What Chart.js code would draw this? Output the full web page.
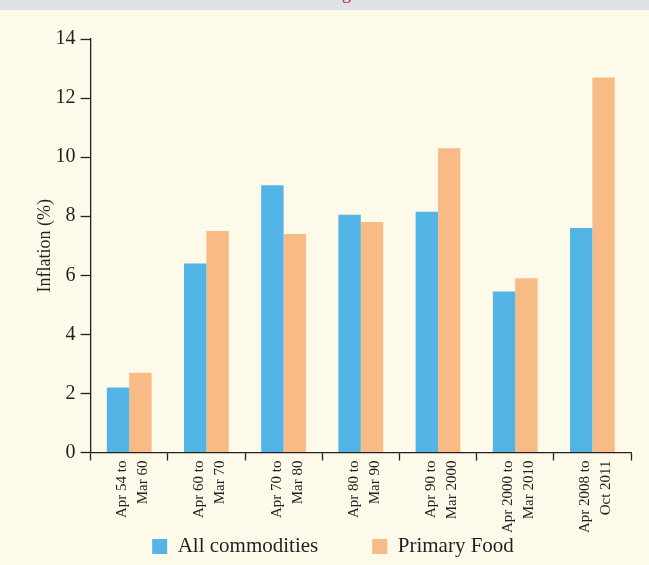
<!DOCTYPE html>
<html>
<head>
<meta charset="utf-8">
<script src="https://cdn.jsdelivr.net/npm/chart.js@4"></script>
<style>
  html, body { margin: 0; padding: 0; background: #fefae9; }
  #band { position: absolute; left: 0; top: 0; width: 649px; height: 10px; background: #dee2e5; overflow: hidden; }
  #band span { position: absolute; left: 342px; top: -17px; color: #b01c3a; font: 18px 'Liberation Serif', serif; }
  #wrap { position: absolute; left: 0; top: 10px; width: 649px; height: 555px; }
</style>
</head>
<body>
<div id="band"><span>g</span></div>
<div id="wrap"><canvas id="chart"></canvas></div>
<script>
let periods = [
    ['Apr 54 to', 'Mar 60'],
    ['Apr 60 to', 'Mar 70'],
    ['Apr 70 to', 'Mar 80'],
    ['Apr 80 to', 'Mar 90'],
    ['Apr 90 to', 'Mar 2000'],
    ['Apr 2000 to', 'Mar 2010'],
    ['Apr 2008 to', 'Oct 2011']
] ;
let allCommodities = [2.2, 6.4, 9.05, 8.05, 8.15, 5.45, 7.6] ;
let primaryFood = [2.7, 7.5, 7.4, 7.8, 10.3, 5.9, 12.7] ;
let yTicks = [0, 2, 4, 6, 8, 10, 12, 14] ;

let ink = '#231f20' ;
let serif = "'Liberation Serif', serif" ;

// legend items need a wide gap between them but not the tall box that
// a big labels.padding gives, so shrink the box and pull its top up
let legendGap = 54 ;
let legendFix = {
    id : 'legendFix' ,
    beforeLayout : function (chart) {
        let lg = chart.legend ;
        if (lg && !lg._fixed) {
            let fit = lg.fit ;
            lg.fit = function () { fit.call(this); this.height = 32; } ;
            lg._fixed = true ;
        }
    } ,
    afterLayout : function (chart) {
        chart.legend.top -= 51 ;
        chart.legend.left += 9 ;
    }
} ;

let ctx = document.getElementById('chart').getContext('2d');
let mychart = new Chart(ctx , {
    type : 'bar' ,
    data : {
        labels : periods ,
        datasets : [{
            label : 'All commodities' ,
            data : allCommodities ,
            backgroundColor : '#52b5e6'
        }, {
            label : 'Primary Food' ,
            data : primaryFood ,
            backgroundColor : '#f9bb85'
        }]
    } ,
    plugins : [legendFix] ,
    options : {
        responsive : true ,
        maintainAspectRatio : false ,
        animation : false ,
        layout : { padding : { left : 26, right : 18, top : 29, bottom : 0 } } ,
        datasets : { bar : { categoryPercentage : 0.58, barPercentage : 1.0 } } ,
        plugins : {
            tooltip : { enabled : false } ,
            legend : {
                position : 'bottom' ,
                labels : {
                    color : ink ,
                    boxWidth : 15 ,
                    boxHeight : 15 ,
                    padding : legendGap ,
                    font : { family : serif, size : 21 }
                }
            }
        } ,
        scales : {
            x : {
                grid : { drawOnChartArea : false, color : ink, tickLength : 8, tickWidth : 1.3 } ,
                border : { color : ink, width : 1.3 } ,
                ticks : {
                    color : ink ,
                    minRotation : 90 ,
                    maxRotation : 90 ,
                    padding : 0 ,
                    labelOffset : -7 ,
                    font : { family : serif, size : 15, lineHeight : 1.4 }
                }
            } ,
            y : {
                min : 0 ,
                max : 14 ,
                afterBuildTicks : function (axis) {
                    axis.ticks = yTicks.map(v => ({ value : v }));
                } ,
                grid : { drawOnChartArea : false, color : ink, tickLength : 10, tickWidth : 1.3 } ,
                border : { color : ink, width : 1.3 } ,
                title : {
                    display : true ,
                    text : 'Inflation (%)' ,
                    color : ink ,
                    padding : { top : 8, bottom : -5 } ,
                    font : { family : serif, size : 18 }
                } ,
                ticks : {
                    color : ink ,
                    padding : 5 ,
                    font : { family : serif, size : 20 }
                }
            }
        }
    }
});
</script>
</body>
</html>
